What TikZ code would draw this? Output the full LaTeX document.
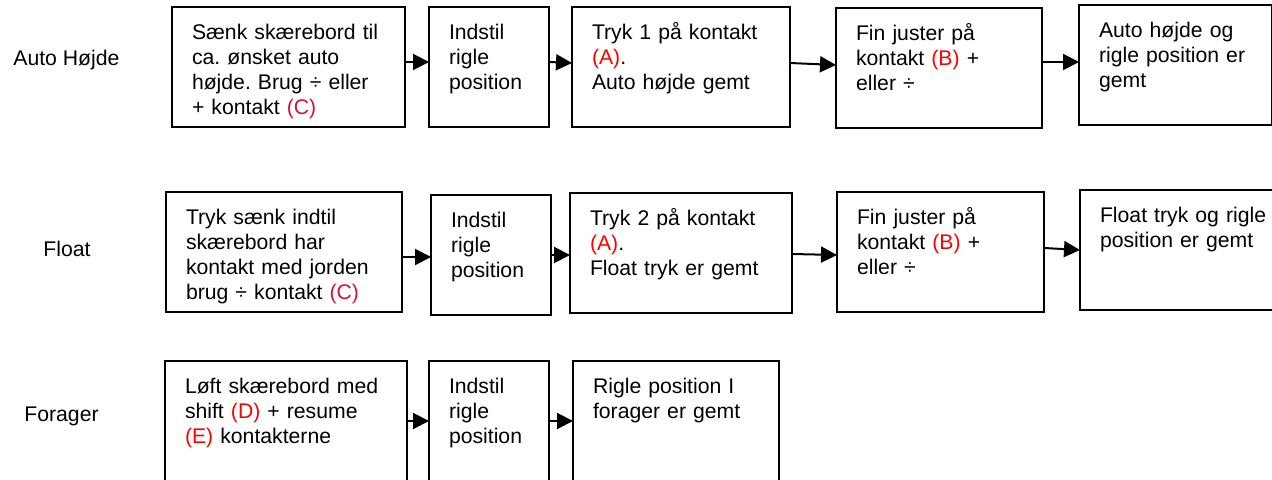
\documentclass[tikz,border=0pt]{standalone}
\usepackage{fontspec}
\setmainfont{Liberation Sans}
\usetikzlibrary{arrows.meta}

\definecolor{keyred}{RGB}{255,0,0}
\definecolor{keycrimson}{RGB}{214,18,60}
\newcommand{\redkey}[1]{\textcolor{keyred}{#1}}
\newcommand{\crimkey}[1]{\textcolor{keycrimson}{#1}}
\frenchspacing

\begin{document}
\begin{tikzpicture}[x=0.5pt, y=-0.5pt,
  every node/.style={font=\fontsize{10.6pt}{12.5pt}\selectfont},
  stepbox/.style={draw, line width=1pt, anchor=north west, align=left,
    outer sep=0pt, inner xsep=10pt, inner ysep=0pt,
    text height=16.25pt, text depth=43.75pt, text width=#1},
  flow/.style={line width=1pt, -{Triangle[length=8pt, width=8pt]}},
  rowlabel/.style={anchor=base west, inner sep=0pt}]

  %% Page frame (boxes run off the right and bottom edges).
  \useasboundingbox (0,0) rectangle (1272,480);
  \clip (0,0) rectangle (1272,480);


  %% Auto hoejde row:
  \node[rowlabel] (lauto) at (13,66) {Auto Højde};

  \node[stepbox=96.5pt] (a1) at (172,7)
  {Sænk skærebord til\\ca. ønsket auto\\højde. Brug ÷ eller\\+ kontakt \crimkey{(C)}};
  \node[stepbox=40pt] (a2) at (429,7) {Indstil\\rigle\\position};
  \node[stepbox=89pt] (a3) at (572,7)
  {Tryk 1 på kontakt\\\redkey{(A)}.\\Auto højde gemt};
  \node[stepbox=83pt] (a4) at (836,8)
  {Fin juster på\\kontakt \redkey{(B)} +\\eller ÷};
  \node[stepbox=76.5pt] (a5) at (1079,5)
  {Auto højde og\\rigle position er\\gemt};

  \draw[flow] ([yshift=2.5pt]a1.east) -- ([yshift=2.5pt]a2.west);
  \draw[flow] ([yshift=2.5pt]a2.east) -- ([yshift=2pt]a3.west);
  \draw[flow] ([yshift=2pt]a3.east) -- ([yshift=1.5pt]a4.west);
  \draw[flow] ([yshift=3pt]a4.east) -- ([yshift=1.5pt]a5.west);


  %% Float row:
  \node[rowlabel] (lfloat) at (43,257) {Float};

  \node[stepbox=98pt] (b1) at (166,192)
  {Tryk sænk indtil\\skærebord har\\kontakt med jorden\\brug ÷ kontakt \crimkey{(C)}};
  \node[stepbox=40pt] (b2) at (431,195) {Indstil\\rigle\\position};
  \node[stepbox=91pt] (b3) at (570,193)
  {Tryk 2 på kontakt\\\redkey{(A)}.\\Float tryk er gemt};
  \node[stepbox=83.5pt] (b4) at (837,192)
  {Fin juster på\\kontakt \redkey{(B)} +\\eller ÷};
  \node[stepbox=85pt] (b5) at (1080,190)
  {Float tryk og rigle\\position er gemt};

  \draw[flow] ([yshift=-2.5pt]b1.east) -- ([yshift=-1pt]b2.west);
  \draw[flow] (b2.east) -- ([yshift=-1pt]b3.west);
  \draw[flow] ([yshift=-0.5pt]b3.east) -- ([yshift=-1.5pt]b4.west);
  \draw[flow] ([yshift=2pt]b4.east) -- (b5.west);


  %% Forager row:
  \node[rowlabel] (lforager) at (24,421) {Forager};

  \node[stepbox=101pt] (c1) at (165,361)
  {Løft skærebord med\\shift \redkey{(D)} + resume\\\redkey{(E)} kontakterne};
  \node[stepbox=40pt] (c2) at (429,361) {Indstil\\rigle\\position};
  \node[stepbox=83pt] (c3) at (573,361)
  {Rigle position I\\forager er gemt};

  \draw[flow] (c1.east) -- (c2.west);
  \draw[flow] (c2.east) -- (c3.west);

\end{tikzpicture}
\end{document}
